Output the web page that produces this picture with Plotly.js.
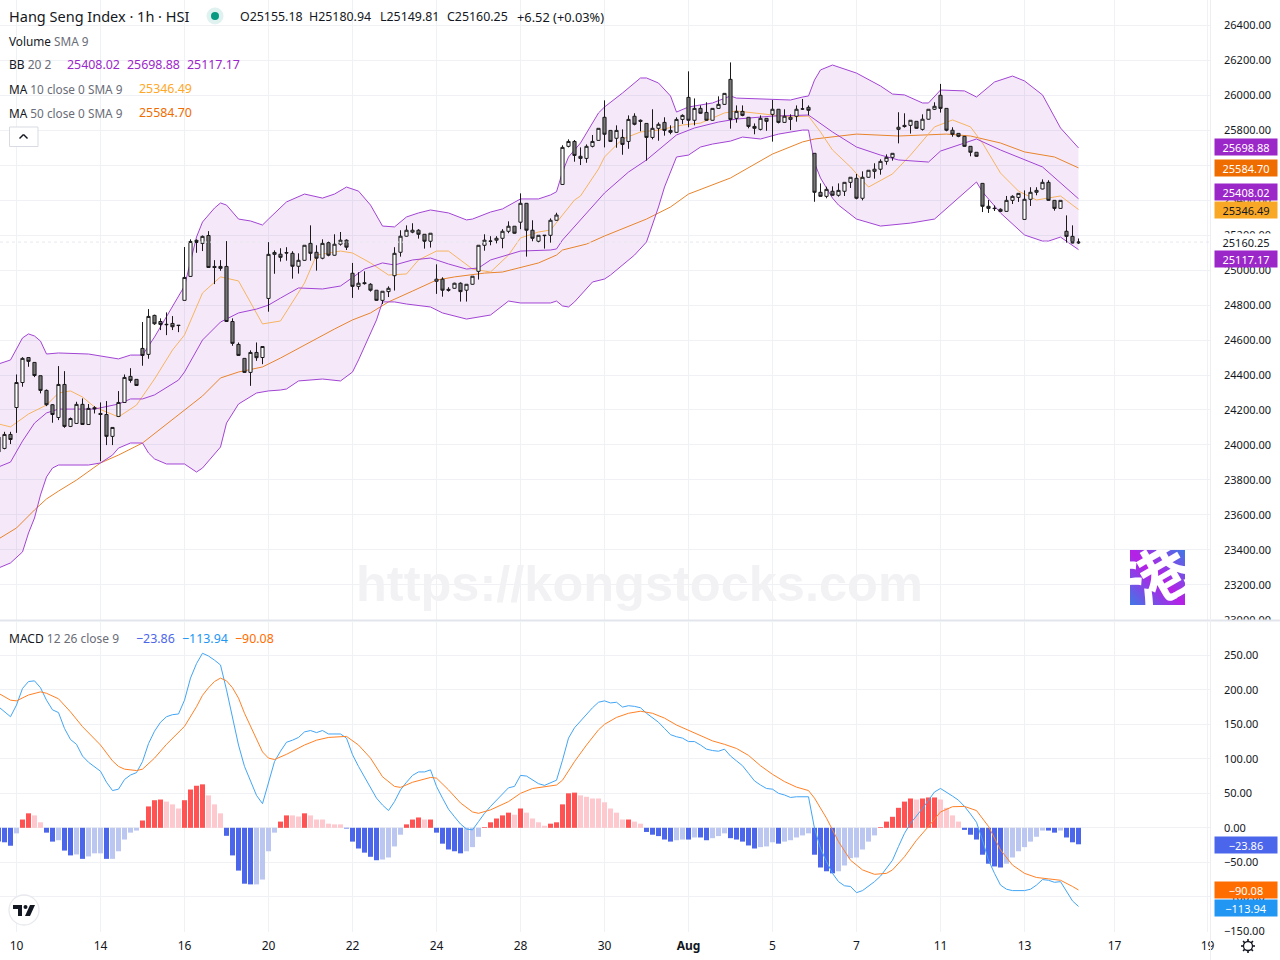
<!DOCTYPE html>
<html><head><meta charset="utf-8">
<script src="https://cdn.plot.ly/plotly-3.0.1.min.js"></script>
<style>html,body{margin:0;padding:0;background:#fff}#c{width:1280px;height:960px}</style></head>
<body><div id="c"></div>
<script>
// Bars are numbered from the first labelled session bar (10 Jul = 0); -3 .. 177 are on screen.
const firstBar = -3;
const openP = [24045,23980,24060,24214,24357,24500,24472,24396,24312,24230,24157,24346,24106,24123,24232,24117,24213,24180,24174,24049,24163,24243,24392,24375,24552,24518,24741,24706,24690,24695,24685,24827,24964,25170,25153,25198,25021,25021,25021,24706,24575,24495,24415,24529,24500,24838,25090,25091,25100,25096,25022,25056,25153,25102,25068,25157,25085,25148,25171,24982,24907,24928,24919,24885,24827,24877,24968,25102,25194,25217,25228,25205,25165,24936,24948,24890,24896,24925,24885,24919,24993,25142,25164,25171,25182,25222,25251,25274,25382,25228,25165,25197,25199,25285,25490,25708,25736,25651,25639,25708,25742,25874,25799,25754,25759,25736,25880,25857,25839,25759,25811,25845,25799,25788,25862,25988,25857,25925,25902,25857,25925,25948,26091,25868,25908,25874,25822,25805,25868,25891,25920,25845,25862,25880,25921,25931,25668,25445,25422,25451,25428,25451,25502,25525,25411,25531,25565,25577,25622,25645,25805,25828,25828,25851,25805,25863,25920,26000,25925,25800,25782,25765,25708,25674,25496,25365,25354,25348,25336,25399,25416,25290,25405,25445,25464,25502,25399,25353,25222,25193,25155.18];
const highP = [24060,24075,24075,24403,24502,24502,24472,24396,24317,24234,24451,24422,24157,24247,24266,24234,24222,24243,24251,24100,24308,24403,24439,24375,24703,24777,24745,24724,24758,24737,24686,25132,25176,25176,25198,25223,25057,25057,25166,24724,24586,24495,24541,24586,24563,25160,25113,25125,25131,25108,25096,25142,25256,25142,25176,25163,25205,25218,25176,25041,24988,24993,24925,24885,24879,24907,25131,25228,25256,25268,25234,25205,25211,25033,24959,24902,24928,24930,24919,24965,25142,25205,25194,25194,25234,25279,25251,25439,25384,25285,25199,25200,25296,25328,25714,25748,25744,25702,25719,25773,25811,25971,25799,25828,25805,25885,25897,25862,25839,25920,25845,25874,25828,25874,25891,26137,25982,25942,25960,25925,25994,26011,26188,25942,25942,25874,25839,25885,25868,25973,25920,25920,25891,25942,25979,25942,25668,25496,25477,25479,25496,25502,25531,25550,25565,25571,25611,25634,25662,25668,25903,25897,25857,25851,25891,25920,25960,26065,25925,25817,25782,25765,25708,25674,25496,25401,25370,25353,25424,25428,25439,25456,25474,25474,25519,25514,25399,25399,25313,25256,25180.94];
const lowP = [23950,23975,24005,24069,24333,24447,24388,24295,24222,24127,24142,24098,24102,24121,24117,24115,24180,23907,23999,23999,24163,24241,24356,24340,24453,24493,24687,24657,24628,24657,24645,24827,24962,25099,25109,25013,24920,24996,24704,24567,24510,24413,24338,24481,24462,24762,24979,25049,25054,24951,24980,25054,25054,24997,25062,25079,25083,25140,25115,24841,24888,24917,24877,24825,24806,24846,24883,25077,25192,25211,25180,25123,25129,24864,24848,24877,24894,24820,24820,24917,24946,25111,25142,25153,25125,25211,25209,25234,25077,25165,25159,25123,25157,25283,25488,25702,25620,25601,25614,25702,25740,25702,25734,25700,25660,25694,25828,25794,25626,25748,25740,25769,25777,25786,25836,25817,25828,25895,25855,25855,25923,25946,25809,25843,25880,25811,25777,25799,25797,25735,25839,25843,25801,25849,25916,25885,25391,25420,25411,25426,25420,25424,25470,25405,25399,25529,25523,25546,25603,25626,25725,25815,25781,25809,25798,25861,25916,25901,25794,25763,25760,25706,25651,25649,25332,25327,25338,25334,25334,25378,25390,25288,25367,25428,25462,25397,25340,25351,25157,25153,25149.81];
const closeP = [23960,24060,24031,24357,24495,24478,24397,24312,24230,24174,24346,24106,24151,24232,24117,24209,24207,24174,24049,24100,24243,24386,24369,24340,24512,24735,24693,24689,24688,24676,24683,24958,25164,25158,25193,25015,25015,25010,24706,24581,24512,24415,24529,24499,24563,25090,25101,25073,25098,25022,25056,25142,25096,25068,25153,25085,25148,25171,25131,24907,24925,24923,24885,24827,24879,24896,25096,25194,25228,25228,25205,25165,25211,24948,24885,24885,24925,24877,24919,24965,25142,25171,25166,25182,25222,25251,25211,25382,25228,25182,25199,25199,25285,25315,25702,25736,25656,25639,25708,25736,25811,25777,25736,25799,25719,25862,25834,25851,25759,25811,25834,25799,25788,25862,25885,25857,25925,25897,25857,25925,25948,26011,25862,25908,25885,25822,25811,25868,25851,25920,25845,25880,25874,25920,25922,25914,25445,25422,25462,25428,25456,25502,25531,25411,25531,25571,25577,25622,25645,25668,25817,25821,25857,25811,25863,25920,25937,25925,25800,25777,25765,25708,25674,25651,25365,25353,25352,25336,25399,25422,25439,25405,25445,25456,25502,25399,25353,25399,25193,25155,25160.25];

const bbUpperBars = [-3,-1,1,2,3,4,5,7,12,13,17,19,21,23,25,27,28,30,31,33,34,35,37,39,41,42,44,45,48,51,53,55,57,59,61,63,65,67,69,72,75,76,79,81,84,87,89,90,91,92,94,97,98,101,104,105,107,109,110,112,116,119,120,126,129,131,132,133,134,136,138,140,144,146,148,151,152,154,158,160,163,166,168,171,174,177];
const bbUpperVals = [24463,24486,24612,24635,24623,24594,24520,24526,24520,24514,24492,24514,24514,24617,24732,24846,24909,25189,25275,25355,25384,25372,25292,25281,25258,25292,25355,25390,25435,25412,25435,25475,25452,25372,25252,25247,25304,25327,25344,25327,25287,25292,25332,25350,25407,25407,25430,25448,25561,25647,25727,25899,25933,26013,26099,26099,26070,25996,25904,25933,25956,25996,25984,25979,25973,25990,25996,26087,26145,26173,26150,26127,26053,26007,26002,25956,25956,26030,26025,25990,26076,26110,26082,26002,25813,25698.88];
const bbLowerBars = [-3,-1,1,2,3,4,5,6,7,12,14,16,17,19,21,22,23,25,28,30,31,34,35,37,40,42,44,45,47,51,54,56,57,58,59,60,61,63,65,69,71,75,79,82,84,89,90,91,92,93,96,98,99,102,103,105,107,108,109,110,112,114,116,119,121,124,127,131,132,133,134,136,137,140,144,149,153,158,160,161,164,168,171,172,174,177];
const bbLowerVals = [23296,23325,23388,23496,23582,23714,23817,23868,23885,23885,23897,23942,23982,24011,24011,23954,23920,23891,23891,23845,23868,23988,24125,24234,24297,24309,24314,24320,24366,24377,24366,24417,24486,24562,24640,24715,24818,24818,24806,24789,24755,24720,24743,24823,24812,24812,24823,24795,24789,24818,24932,24949,24972,25058,25086,25161,25361,25475,25561,25647,25658,25704,25721,25738,25761,25750,25778,25801,25801,25613,25527,25412,25372,25292,25252,25269,25292,25441,25504,25447,25327,25201,25166,25166,25189,25117.17];
const bbBasisBars = [-3,-1,1,3,5,7,13,17,19,21,23,27,28,31,34,37,40,42,44,47,51,54,58,61,63,66,69,72,75,77,79,84,89,90,91,96,98,102,105,110,113,117,120,126,132,136,140,144,147,152,154,160,164,171,177];
const bbBasisVals = [23874,23902,24022,24125,24183,24205,24205,24234,24263,24263,24286,24371,24417,24600,24703,24755,24777,24800,24840,24898,24892,24909,25006,25041,25029,25058,25069,25035,25006,25012,25058,25109,25115,25121,25172,25367,25441,25561,25630,25773,25813,25847,25864,25881,25887,25790,25704,25658,25630,25618,25681,25750,25687,25590,25408.02];
const ma10Bars = [-3,-1,2,5,7,9,11,13,17,20,23,26,28,31,34,37,41,44,48,50,54,56,59,62,65,67,70,72,76,79,82,84,87,89,93,94,97,98,101,104,107,111,114,118,120,123,126,129,132,134,136,139,142,146,149,153,156,159,161,164,167,170,174,177];
const ma10Vals = [24120,24103,24177,24228,24297,24309,24274,24217,24160,24228,24377,24543,24629,24869,24961,24938,24692,24709,24926,25086,25109,25098,25041,24972,24978,25058,25109,25109,25006,24989,25086,25184,25218,25229,25401,25424,25578,25647,25750,25790,25801,25830,25841,25899,25910,25899,25887,25876,25881,25790,25687,25590,25475,25550,25658,25819,25859,25819,25727,25555,25452,25401,25424,25346.49];
const ma50Bars = [-3,0,3,5,7,10,14,17,21,27,31,34,37,41,44,53,56,59,62,66,70,73,78,81,85,87,90,91,95,98,105,107,109,112,119,126,131,133,140,147,155,159,164,168,173,177];
const ma50Vals = [23462,23525,23628,23691,23736,23799,23897,23942,24011,24171,24280,24383,24417,24446,24497,24663,24715,24755,24818,24880,24943,24961,24983,24989,25024,25041,25086,25115,25149,25195,25292,25327,25361,25435,25527,25664,25733,25750,25778,25767,25778,25767,25727,25676,25647,25584.70];

const histVals = [-20,-21,-26,-8,12,21,18,8,-7,-20,-18,-33,-40,-38.6,-45,-41.5,-37,-37,-45,-45,-34,-17,-7,-4,10.6,31,40,41,38,34,28,40,55.5,61,63,47,34,21,-11.6,-40,-62,-81,-82,-82,-75,-34,-7,9,18,18,16.4,21,18,12,12,6,5,5,-1,-20,-30,-36,-42,-47,-46,-43,-27,-10,5,12,15,12,12,-7,-23,-31.4,-34,-37,-34,-28,-13,1,8,13.5,18,22,19,28,22,13.5,8,3,6,8,34,50,51,47,45,42.5,42.5,37,28,22,12,12,9,6,-6,-10,-12,-17,-20,-18,-17,-17,-14,-14,-18,-15,-12,-8,-15,-17,-20,-25.6,-30,-28,-27,-21,-23,-20,-18,-14,-11,-8,-39,-57.5,-63,-66,-63,-54.6,-44,-43,-31.4,-20,-11,1,9,16,29,38,42.5,41,42.5,44,44,41,29,18,9,-3,-10,-17,-39,-52,-56,-57.5,-52,-43,-34,-28,-20,-13,-4,-4,-7,-4,-14,-21,-23.86];
const histShade = ("DDD"+"LRRPPDDLDD"+"LDLLLDLLLL"+"LRRRRPPPRR"+"RRPPPDDDDD"+"LLLLRRPPRP"+"PPPPPDDDDD"+"DLLLLRRRPR"+"DDDDDLLLRR"+"RRRPRPPPPR"+"RRRRPPPPPP"+"PPRPPDDDDD"+"LLDLDDLLLD"+"DDDDLLLDLL"+"LLLDDDDLLL"+"LLLLRRRRRR"+"PRRRPPPPDD"+"DDDDDLLLLL"+"LLDDLDDD").split("");
const macdBars = [-3,-1,0,1,2,3,4,5,6,7,8,9,10,11,12,14,15,16,17,18,19,20,21,22,23,24,25,26,27,28,29,30,31,32,33,34,35,36,37,38,39,40,41,42,43,44,45,46,47,48,49,50,51,52,54,55,56,57,58,59,60,61,62,63,64,65,66,67,68,69,70,71,72,73,74,75,76,77,78,79,80,81,82,83,84,85,86,87,88,89,90,91,92,93,94,95,96,97,98,99,100,101,102,103,104,105,106,107,108,109,110,111,112,113,114,115,116,117,118,119,120,121,122,123,124,125,126,127,128,129,130,132,133,134,135,136,137,138,139,140,141,142,143,144,145,146,147,148,149,150,151,152,153,154,155,156,157,158,159,160,161,162,163,164,165,166,168,169,170,171,172,173,174,175,176,177];
const macdVals = [175.5,161,178,202,212,213,203,185,171,167,144,128,121,104,95,82,66,54,56,70,76.5,80,96,122,140,153,161,164,165,185,217,238,253,249,243,236,200,161,120,89,67,47,35,67,96,111,124,127,131,139,141,138,141,136,136,130,106,89,73,57,43,33,25,38,55,66,76,81,81,84,60,43,27,16,5.5,-1.7,-3,9,21,31,40,50,58,60,76,75,69,64,61.5,65,69,98,130,145,155,165,174,182,184,181,182,175,177,176,174,166,159,153,144,135,132,130,125,125,120,114,112,111,114,104,97,90,79,68,62,57,56,50,47.6,44,45,45,-0.7,-30,-49,-66,-78,-84,-85,-94,-91,-85,-78,-70,-59,-47,-27,-8,6.5,17,28,40,52,57,52,46,40,31,20,8,-18,-47,-66,-83,-89,-91,-91,-89,-83,-75,-76,-79,-78,-93,-106,-113.94];
const signalBars = [-3,-1,0,2,4,5,7,9,11,14,16,17,18,20,21,23,25,27,28,30,31,32,33,34,35,36,37,38,39,40,41,42,43,45,48,50,52,55,57,59,61,63,64,66,69,70,72,74,76,77,79,82,84,86,88,90,91,93,95,97,98,100,102,104,106,108,110,113,116,118,120,122,124,126,128,130,132,133,135,137,139,141,143,145,146,148,150,152,154,156,158,160,162,164,166,168,170,172,174,176,177];
const signalVals = [195,185,184,192.5,197,195,187,168,146.6,120,97,89,85,83,85,101,121,139,147,175.5,192,203,212,217,213,203,188,166,146.6,127,110,101,99,106.5,120,127,131,132.5,120,101,74,60,58.6,66,73,72,55,36,23,21,26,38,50,57,60,62,69,96,120,142,150,160,166,169,166,159,149,137,126,121,115,105,90,77.5,67,59,54,43,14,-20,-47,-61,-67.4,-66,-61,-42,-18,2,23,30.6,31,25,2,-32,-54,-66,-72,-74,-76,-85,-90.08];

const dateTickBars = [0,14,28,42,56,70,84,98,112,126,140,154,168,183,198.5];
const dateTickText = ["10","14","16","20","22","24","28","30","<b>Aug</b>","5","7","11","13","17","19"];

const FONT = '"Noto Sans", sans-serif', INK = '#131722', GREY = '#6a6d78';
const PW = 1210, PH = 932;
const px = x => x / PW, py = y => 1 - y / PH;
const barIdx = openP.map((_, i) => firstBar + i);
const shadeColor = {D:'#4c66eb', L:'#bbc7f0', R:'#ff5252', P:'#fdc9ce'};
const BB = '#a244d4', PURPLE = '#9c27c9';

const line = (x, y, color, yaxis, w) => ({type:'scatter', mode:'lines', x, y, yaxis, xaxis:'x', hoverinfo:'skip', showlegend:false, line:{color, width:w||1}});

const traces = [
  {type:'scatter', mode:'lines', xaxis:'x', yaxis:'y', hoverinfo:'skip', showlegend:false,
   x: bbUpperBars.concat(bbLowerBars.slice().reverse()),
   y: bbUpperVals.concat(bbLowerVals.slice().reverse()),
   fill:'toself', fillcolor:'rgba(156,39,200,0.1)', line:{width:0}},
  line(ma50Bars, ma50Vals, '#e8842c', 'y3', 1),
  line(ma10Bars, ma10Vals, '#f7b460', 'y3', 1),
  line(bbUpperBars, bbUpperVals, BB, 'y3', 1),
  line(bbLowerBars, bbLowerVals, BB, 'y3', 1),
  line(bbBasisBars, bbBasisVals, BB, 'y3', 1),
  {type:'candlestick', x:barIdx, open:openP, high:highP, low:lowP, close:closeP, xaxis:'x', yaxis:'y4',
   hoverinfo:'skip', showlegend:false, whiskerwidth:0,
   increasing:{line:{color:'#1a1a1a', width:1}, fillcolor:'#ffffff'},
   decreasing:{line:{color:'#1a1a1a', width:1}, fillcolor:'#787878'}},
  {type:'bar', x:barIdx, y:histVals, xaxis:'x', yaxis:'y2', hoverinfo:'skip', showlegend:false,
   marker:{color:histShade.map(s => shadeColor[s]), line:{width:0}}},
  line(macdBars, macdVals, '#42a5f5', 'y2', 1),
  line(signalBars, signalVals, '#ff8126', 'y2', 1)
];

const txt = (x, y, text, color, size, o) => Object.assign({xref:'paper', yref:'paper', x:px(x-1), y:py(y+0.5), text, showarrow:false,
  xanchor:'left', yanchor:'middle', align:'left', borderpad:0, font:{family:FONT, size:size||12.4, color:color||INK}}, o||{});
const tag = (y, text, bg, fg) => ({xref:'paper', yref:'paper', x:px(1214), y:py(y), text, showarrow:false, xanchor:'left', yanchor:'middle',
  width:62, height:16, align:'center', valign:'middle', bgcolor:bg, borderpad:0, font:{family:FONT, size:11, color:fg||'#fff'}});

const annotations = [
  {xref:'paper', yref:'paper', x:px(639.5), y:py(583), text:'<b>https://kongstocks.com</b>', showarrow:false, xanchor:'center', yanchor:'middle',
   font:{family:'"Liberation Sans", sans-serif', size:50.5, color:'#f2f2f5'}},
  txt(9, 15.5, 'Hang Seng Index · 1h · HSI', INK, 14.5),
  txt(240, 16, 'O25155.18'), txt(309, 16, 'H25180.94'), txt(380, 16, 'L25149.81'), txt(447, 16, 'C25160.25'),
  txt(517, 16, '+6.52 (+0.03%)', INK, 12.8),
  txt(9, 40, 'Volume <span style="color:'+GREY+'">SMA 9</span>', INK, 11.8),
  txt(9, 64, 'BB <span style="color:'+GREY+'">20 2</span>', INK, 12),
  txt(67, 64, '25408.02', PURPLE), txt(127, 64, '25698.88', PURPLE), txt(187, 64, '25117.17', PURPLE),
  txt(9, 88, 'MA <span style="color:'+GREY+'">10 close 0 SMA 9</span>', INK, 11.8),
  txt(139, 88, '25346.49', '#ffa726'),
  txt(9, 112, 'MA <span style="color:'+GREY+'">50 close 0 SMA 9</span>', INK, 11.8),
  txt(139, 112, '25584.70', '#ef6c00'),
  txt(9, 638, 'MACD <span style="color:'+GREY+'">12 26 close 9</span>', INK, 12),
  txt(136, 638, '−23.86', '#4c66eb'), txt(182, 638, '−113.94', '#2196f3'), txt(235, 638, '−90.08', '#ff6d00'),
  tag(147, '25698.88', PURPLE), tag(168, '25584.70', '#ef6c00'), tag(192, '25408.02', PURPLE),
  tag(210, '25346.49', '#f9a825', INK), tag(242, '25160.25', '#ffffff', INK), tag(259, '25117.17', PURPLE),
  tag(845, '−23.86', '#4c66eb'), tag(890, '−90.08', '#ff6d00'), tag(908, '−113.94', '#2196f3')
];

const rect = (x0,y0,x1,y1,fill,lc,layer) => ({type:'rect', xref:'paper', yref:'paper', x0:px(x0), x1:px(x1), y0:py(y0), y1:py(y1), fillcolor:fill, line:{color:lc||fill, width:lc?1:0}, layer:layer||'above'});
const circ = (cx,cy,r,fill,lc) => ({type:'circle', xref:'paper', yref:'paper', x0:px(cx-r), x1:px(cx+r), y0:py(cy+r), y1:py(cy-r), fillcolor:fill, line:{color:lc||fill, width:lc?1.3:0}, layer:'above'});
const seg = (x0,y0,x1,y1,color,w,dash) => ({type:'line', xref:'paper', yref:'paper', x0:px(x0), x1:px(x1), y0:py(y0), y1:py(y1), line:{color, width:w||1, dash:dash||'solid'}, layer:'above'});
const poly = (pts, fill) => ({type:'path', xref:'paper', yref:'paper', path:'M'+pts.map(p => px(p[0])+' '+py(p[1])).join('L')+'Z', fillcolor:fill, line:{width:0}, layer:'above'});
const gearSpokes = [0,45,90,135,180,225,270,315].map(d => { const a = d*Math.PI/180; return seg(1248+4.5*Math.cos(a), 946+4.5*Math.sin(a), 1248+7*Math.cos(a), 946+7*Math.sin(a), INK, 1.6); });
const shapes = [
  {type:'line', xref:'paper', x0:0, x1:1, yref:'y4', y0:closeP[closeP.length-1], y1:closeP[closeP.length-1], line:{color:'#e6e8ee', width:1, dash:'dot'}, layer:'above'},
  rect(1211, 620, 1280, 630, '#ffffff'),
  seg(0, 620.5, 1280, 620.5, '#e3e5ec', 2),
  seg(1210.5, 0, 1210.5, 960, '#eceef2', 1),
  circ(215, 16, 8.5, '#dff2ef'), circ(215, 16, 4, '#089981'),
  rect(9.5, 127, 38, 146.5, '#ffffff', '#d9dbe3'),
  seg(19.5, 138.5, 23.5, 134.5, INK, 1.4), seg(23.5, 134.5, 27.5, 138.5, INK, 1.4),
  circ(24, 910, 15, '#ffffff', '#e8e9ee'),
  poly([[13,905],[22,905],[22,916],[18,916],[18,909],[13,909]], INK),
  circ(25.5, 907, 2, INK),
  poly([[30,905],[35,905],[30,916],[25,916]], INK),
  circ(1248, 946, 4.5, 'rgba(0,0,0,0)', INK)
].concat(gearSpokes);

const logoSvg = '<svg xmlns="http://www.w3.org/2000/svg" width="110" height="110" viewBox="0 0 55 55"><defs><linearGradient id="g" x1="0" y1="1" x2="1" y2="0"><stop offset="0" stop-color="#3f78e6"/><stop offset=".5" stop-color="#b81fe6"/><stop offset="1" stop-color="#3f78e6"/></linearGradient><clipPath id="k"><rect width="55" height="55"/></clipPath></defs><rect width="55" height="55" fill="url(#g)"/><g clip-path="url(#k)"><text x="28" y="50" font-family="Noto Sans CJK SC" font-weight="700" font-size="62" fill="#fff" text-anchor="middle" transform="rotate(-30 27 27)">港</text></g></svg>';

const layout = {
  width:1280, height:960, margin:{l:0, r:70, t:0, b:28, pad:0},
  paper_bgcolor:'#fff', plot_bgcolor:'#fff', showlegend:false, hovermode:false, dragmode:false,
  bargap:0.17, boxgap:0.25, font:{family:FONT, size:12, color:INK},
  xaxis:{range:[-2.75,198.917], anchor:'y2', tickmode:'array', tickvals:dateTickBars, ticktext:dateTickText, showgrid:true, gridcolor:'#eff1f4', gridwidth:1,
    zeroline:false, showline:false, ticks:'', ticklabelstandoff:5, tickfont:{family:FONT, size:12, color:INK}, rangeslider:{visible:false}, fixedrange:true},
  yaxis:{domain:[(PH-620)/PH, 1], range:[22998.6,26545], side:'right', anchor:'x', dtick:200, tick0:0, tickformat:'.2f', showgrid:true, gridcolor:'#eff1f4',
    zeroline:false, showline:false, ticks:'', ticklabelstandoff:13, tickfont:{family:FONT, size:11, color:INK}, fixedrange:true},
  yaxis3:{overlaying:'y', range:[22998.6,26545], side:'right', visible:false, fixedrange:true},
  yaxis4:{overlaying:'y', range:[22998.6,26545], side:'right', visible:false, fixedrange:true},
  yaxis2:{domain:[0,(PH-622)/PH], range:[-151,298.3], side:'right', anchor:'x', dtick:50, tick0:0, tickformat:'.2f', showgrid:true, gridcolor:'#eff1f4',
    zeroline:false, showline:false, ticks:'', ticklabelstandoff:13, tickfont:{family:FONT, size:11, color:INK}, fixedrange:true},
  annotations, shapes,
  images:[{source:'data:image/svg+xml;charset=utf-8,'+encodeURIComponent(logoSvg), xref:'paper', yref:'paper', x:px(1130), y:py(550), sizex:55/PW, sizey:55/PH, xanchor:'left', yanchor:'top', sizing:'stretch', layer:'above'}]
};
Plotly.newPlot('c', traces, layout, {staticPlot:true, displayModeBar:false});
</script></body></html>
